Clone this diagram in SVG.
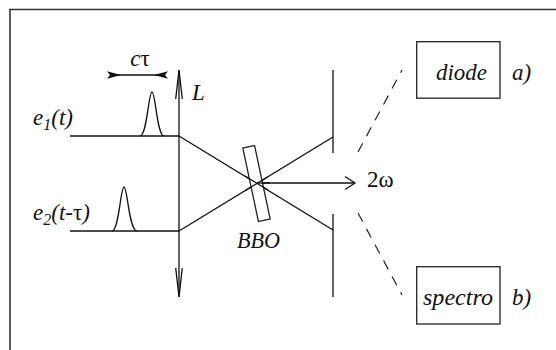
<svg xmlns="http://www.w3.org/2000/svg" width="556" height="350" viewBox="0 0 556 350">
<style>
.ln{stroke:#111;stroke-width:1.3;fill:none}
.fr{stroke:#333;stroke-width:1.6;fill:none}
.box{stroke:#222;stroke-width:1.3;fill:#fff}
.dash{stroke:#222;stroke-width:1.2;fill:none;stroke-dasharray:10 8}
</style>
<rect width="556" height="350" fill="#fff"/>
<path class="fr" d="M10,350 V9.5 H556"/>
<g id="connectors">
<line class="ln" x1="70" y1="136" x2="179" y2="136"/>
<line class="ln" x1="70" y1="231" x2="179" y2="231"/>
<line class="ln" x1="179" y1="136" x2="333" y2="230"/>
<line class="ln" x1="179" y1="231" x2="333" y2="137"/>
<line class="ln" x1="257" y1="183" x2="355" y2="183"/>
<path class="ln" d="M345,176.5 L355,183 L345,189.5"/>
<line class="dash" x1="358" y1="152" x2="402" y2="70"/>
<line class="dash" x1="358" y1="213" x2="402" y2="295"/>
</g>
<g font-family="'Liberation Serif', Tinos, 'Times New Roman', Times, serif" font-size="23" fill="#111" font-style="italic">
<g id="pulse1"><path class="ln" d="M140,136 C147,136 148.5,92 152,92 C155.5,92 157,136 164,136"/></g>
<g id="pulse2"><path class="ln" d="M112,231 C119,231 120.5,187 124,187 C127.5,187 129,231 137,231"/></g>
<g id="ctau">
<line class="ln" x1="112" y1="75" x2="163" y2="75"/>
<polygon points="107,71.3 110,75 107,78.7 121,75" fill="#111"/>
<polygon points="168,71.3 165,75 168,78.7 154,75" fill="#111"/>
<text x="140" y="66" text-anchor="middle">c<tspan font-style="normal">τ</tspan></text>
</g>
<g id="lens">
<line class="ln" x1="179" y1="70" x2="179" y2="297"/>
<path class="ln" d="M175.7,99 L179,70 L182.3,99"/>
<path class="ln" d="M175.7,268 L179,297 L182.3,268"/>
<text x="192" y="100">L</text>
</g>
<g id="e1"><text x="33" y="125">e<tspan font-size="16" dy="5">1</tspan><tspan dy="-5">(t)</tspan></text></g>
<g id="e2"><text x="33" y="220">e<tspan font-size="16" dy="5">2</tspan><tspan dy="-5">(t-</tspan><tspan font-style="normal">τ</tspan>)</text></g>
<g id="bbo">
<rect class="box" x="250.5" y="146" width="12" height="75" transform="rotate(-12 256.5 183.5)"/>
<line class="ln" x1="245" y1="176" x2="268" y2="190"/>
<line class="ln" x1="245" y1="190.8" x2="268" y2="176.7"/>
<line class="ln" x1="257" y1="183" x2="270" y2="183"/>
<text x="237" y="248" textLength="43" lengthAdjust="spacingAndGlyphs">BBO</text>
</g>
<g id="screen">
<line class="ln" x1="333" y1="70" x2="333" y2="153"/>
<line class="ln" x1="333" y1="214" x2="333" y2="297"/>
</g>
<text x="367" y="187" font-style="normal">2ω</text>
<g id="diode">
<rect class="box" x="416.7" y="41.7" width="83.3" height="56.5"/>
<text x="461.5" y="79.5" text-anchor="middle" textLength="51" lengthAdjust="spacingAndGlyphs">diode</text>
<text x="512" y="79.5">a)</text>
</g>
<g id="spectro">
<rect class="box" x="416.7" y="266.7" width="83.3" height="57.3"/>
<text x="458" y="305" text-anchor="middle" textLength="70" lengthAdjust="spacingAndGlyphs">spectro</text>
<text x="512" y="305">b)</text>
</g>
</g>
</svg>
